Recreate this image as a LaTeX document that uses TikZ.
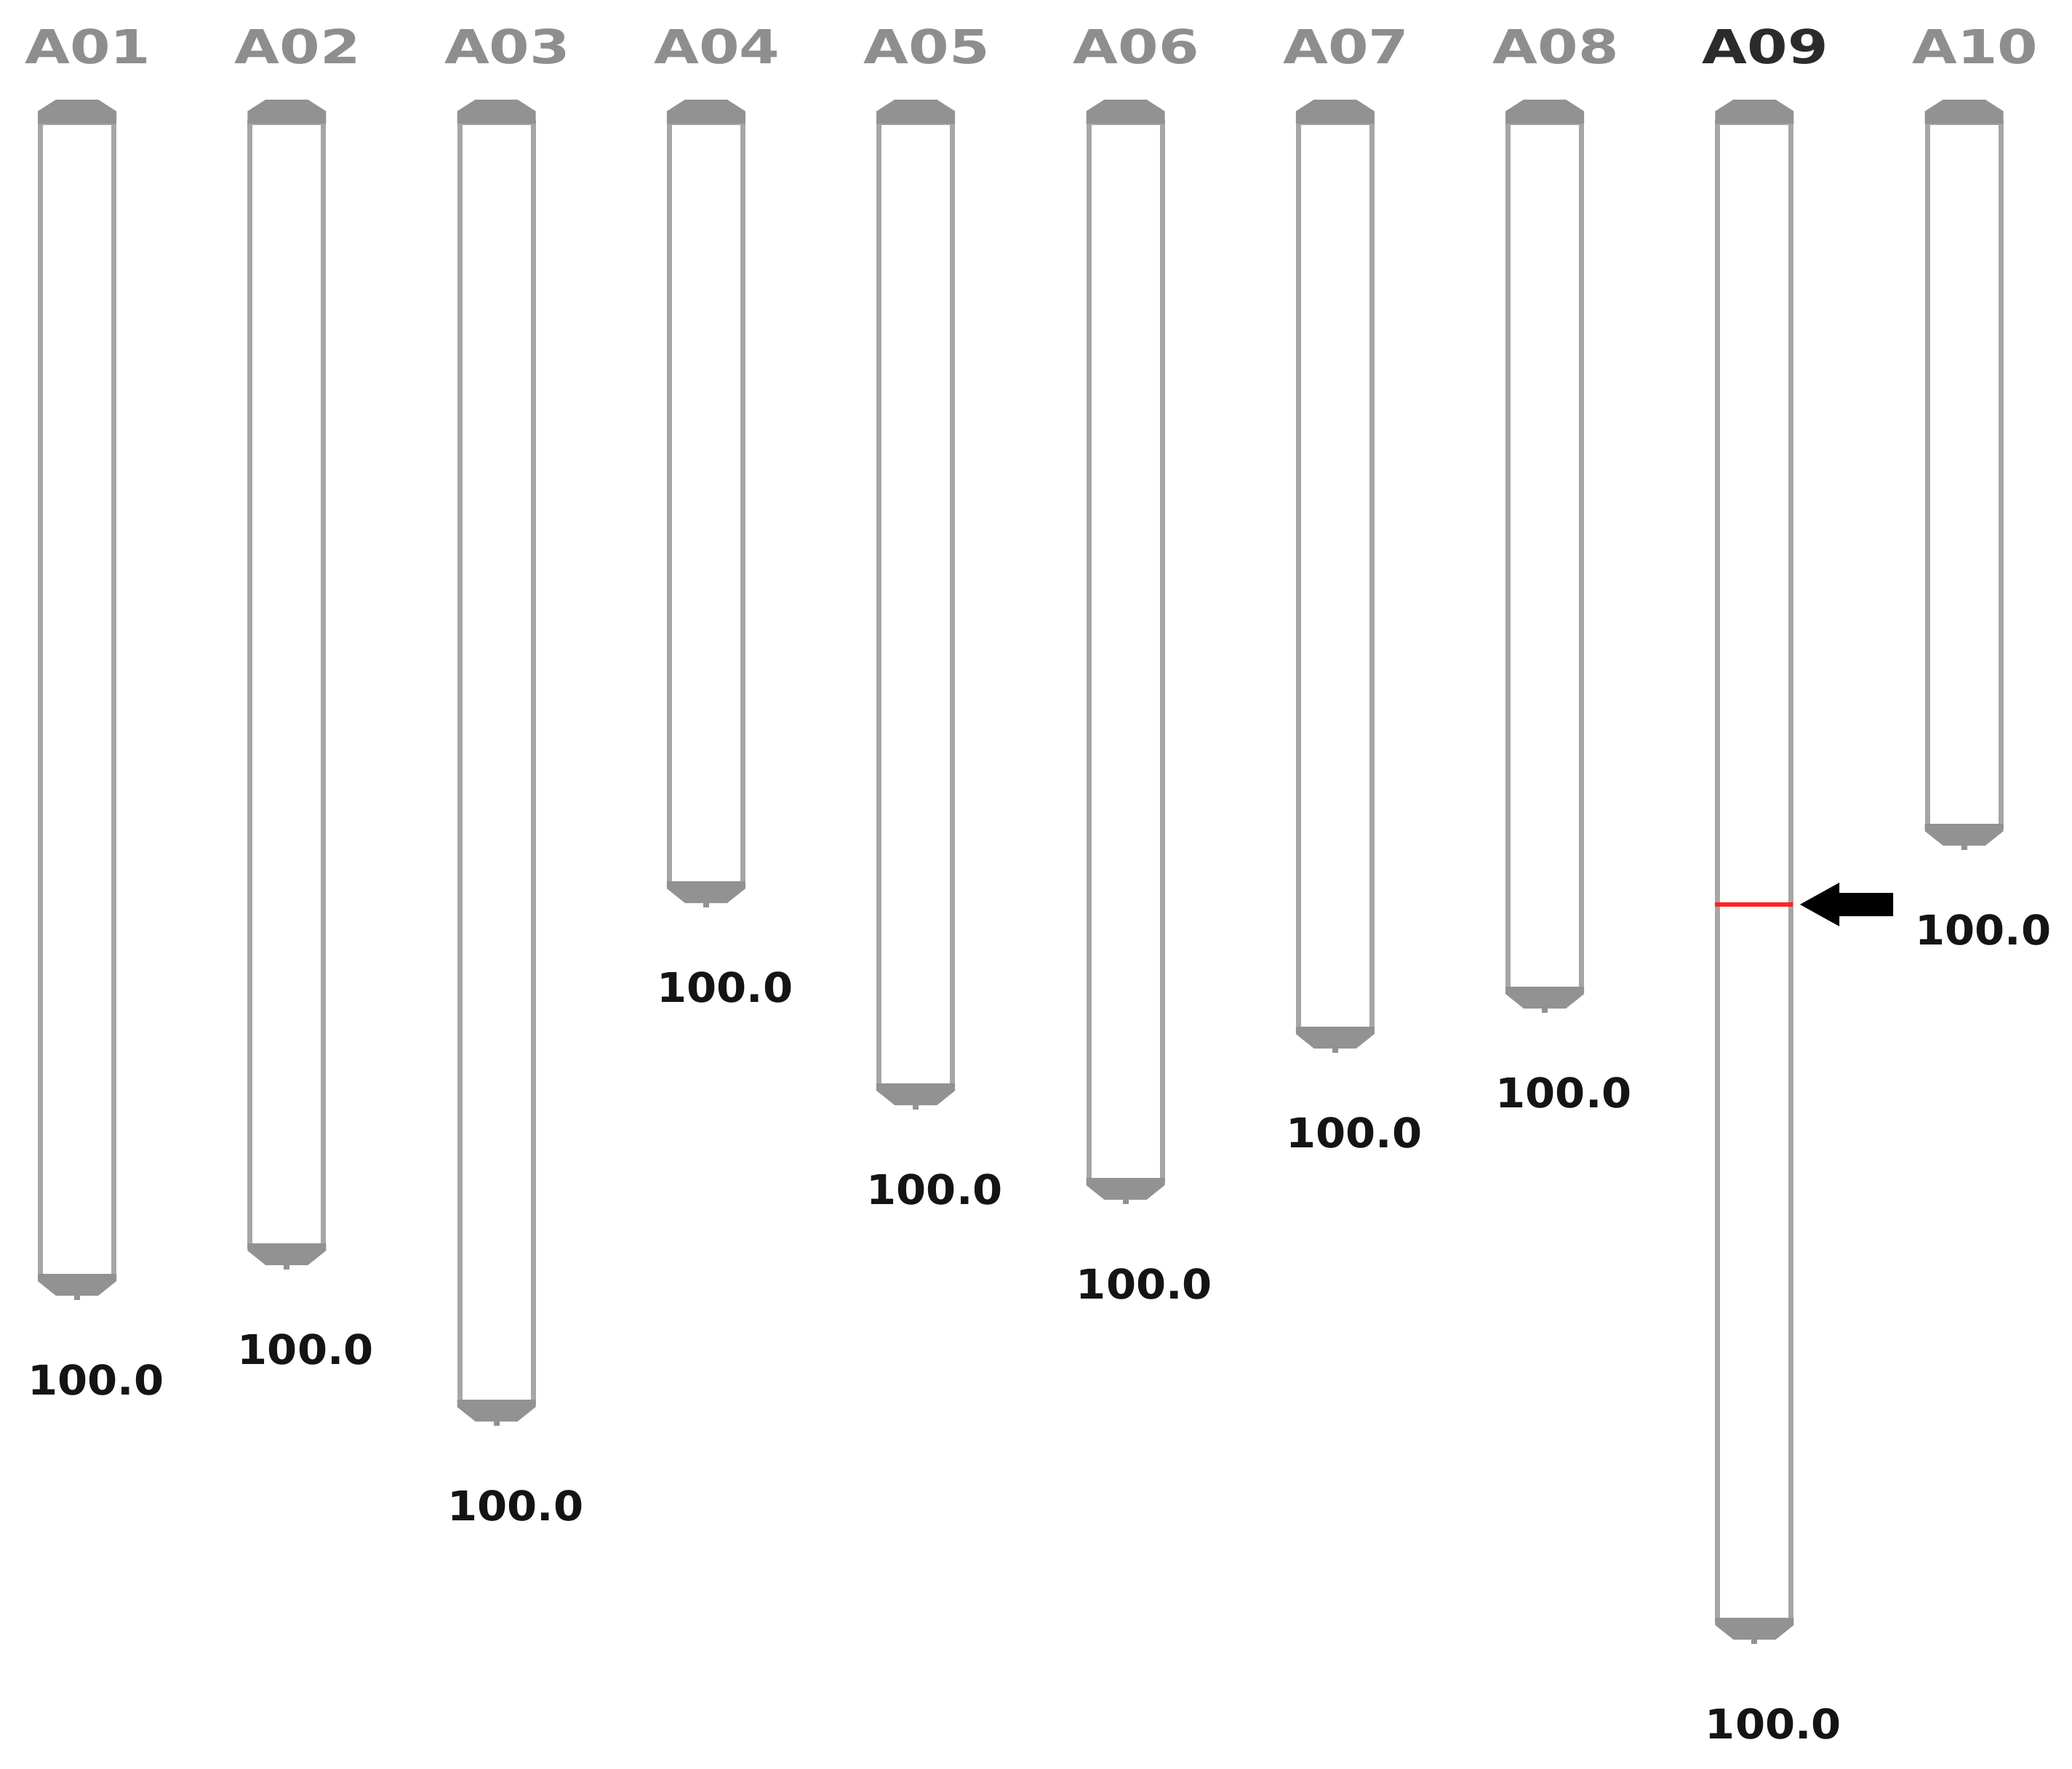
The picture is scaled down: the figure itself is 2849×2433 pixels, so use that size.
\documentclass[tikz,border=0pt]{standalone}
\usepackage{fontspec}
\usepackage{graphicx}
\setmainfont{DejaVu Sans}
\definecolor{chrline}{HTML}{A6A6A6}
\definecolor{capgray}{HTML}{929292}
\definecolor{toplblgray}{HTML}{8E8E8E}
\definecolor{selgray}{HTML}{2B2B2B}
\definecolor{numblack}{HTML}{141414}
\definecolor{markred}{HTML}{FF2424}
\tikzset{
  chrbody/.style={draw=chrline, line width=2.1pt, fill=white},
  chrcap/.style={fill=capgray},
  toplabel/.style={inner sep=0pt, font=\fontsize{19.35}{20}\selectfont\bfseries},
  numlabel/.style={inner sep=0pt, text=numblack, font=\fontsize{16.9}{18}\selectfont\bfseries},
  marker/.style={draw=markred, line width=1.8pt},
  pointer/.style={fill=black},
}
\begin{document}
\begin{tikzpicture}[x=0.3pt,y=-0.3pt]
\useasboundingbox (0,0) rectangle (2849,2433);
\foreach \i/\lab/\b/\col in {0/A01/1782/toplblgray, 1/A02/1740/toplblgray, 2/A03/1955/toplblgray, 3/A04/1242/toplblgray, 4/A05/1520/toplblgray, 5/A06/1650/toplblgray, 6/A07/1442/toplblgray, 7/A08/1387/toplblgray, 8/A09/2255/selgray, 9/A10/1163/toplblgray}{
  \pgfmathsetmacro\xc{106+288.3*\i}
  % body
  \draw[chrbody] (\xc-50.5,168) rectangle (\xc+50.5,\b-27);
  % top cap
  \fill[chrcap] (\xc-54,170) -- (\xc-54,153) -- (\xc-29,137) -- (\xc+29,137) -- (\xc+54,153) -- (\xc+54,170) -- cycle;
  % bottom cap
  \fill[chrcap] (\xc-54,\b-30) -- (\xc+54,\b-30) -- (\xc+54,\b-20) -- (\xc+29,\b) -- (\xc-29,\b) -- (\xc-54,\b-20) -- cycle;
  \fill[chrcap] (\xc-4,\b-2) rectangle (\xc+4,\b+6);
  % labels
  \node[toplabel, text=\col] (top\i) at (\xc+15,64) {\scalebox{1.24}[1]{\lab}};
  \node[numlabel] (num\i) at (\xc+26,\b+116) {\scalebox{1.05}[1]{100.0}};
}
% marker on A09
\draw[marker] (2358,1244) -- (2465,1244);
\coordinate (tip) at (2475,1244);
\fill[pointer] (tip) -- ++(54,-30) -- ++(0,14) -- ++(74,0) -- ++(0,32) -- ++(-74,0) -- ++(0,14) -- cycle;
\end{tikzpicture}
\end{document}
